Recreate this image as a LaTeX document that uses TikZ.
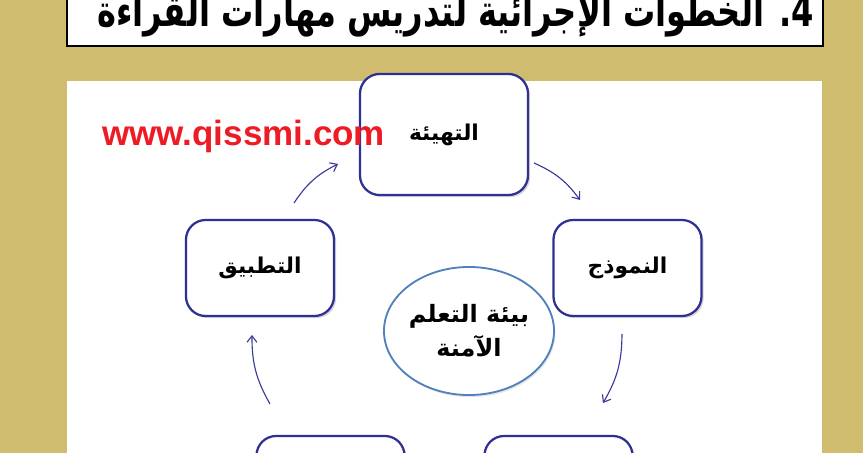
\documentclass[tikz,border=0pt]{standalone}
\usepackage{graphicx}
\usepackage{fontspec}
\setmainfont{Liberation Sans}
\newfontfamily\arabicfont[Script=Arabic]{DejaVu Sans}
\TeXXeTstate=1
\usetikzlibrary{shapes.geometric,shadows,arrows.meta}
\definecolor{khaki}{RGB}{208,188,110}
\definecolor{boxblue}{RGB}{46,49,146}
\definecolor{arrowblue}{RGB}{58,58,156}
\definecolor{ringblue}{RGB}{79,129,189}
\definecolor{urlred}{RGB}{237,28,36}
\newcommand{\artext}[1]{{\arabicfont\bfseries\beginR #1\endR}}

\begin{document}
\begin{tikzpicture}[x=0.025cm,y=-0.025cm,
    stepbox/.style={draw=boxblue,line width=1.6pt,rounded corners=14pt,fill=white,
      minimum width=3.7cm,minimum height=2.4cm,font=\fontsize{15.5}{18}\selectfont,
      drop shadow={opacity=.3,shadow xshift=1.5pt,shadow yshift=-1.5pt}},
    flow/.style={draw=arrowblue,line width=.8pt,-{Straight Barb[length=4.5pt,width=7pt]}}]
    \path[use as bounding box,clip] (0,0) rectangle (863,453);
    \fill[khaki] (0,0) rectangle (863,453);
    \fill[white] (67,81) rectangle (822,470);
    \draw[line width=1.4pt,fill=white,drop shadow={opacity=.4,shadow xshift=1pt,shadow yshift=-1pt}]
      (67,-20) rectangle (823,46);
    \node[anchor=base east,inner sep=0,font=\fontsize{31}{34}\selectfont] (title) at (814,27)
      {\resizebox{17.9cm}{\height}{\artext{4. الخطوات الإجرائية لتدريس مهارات القراءة}}};
    \node[stepbox,minimum width=4.2cm,minimum height=3.025cm] (tamhid) at (444,134.5) {\artext{التهيئة}};
    \node[stepbox] (numudhaj) at (627.5,268) {\artext{النموذج}};
    \node[stepbox] (tatbiq) at (260,268) {\artext{التطبيق}};
    \node[stepbox] (leftlow) at (330.5,484) {};
    \node[stepbox] (rightlow) at (558.5,484) {};
    \node[ellipse,draw=ringblue,line width=1.3pt,fill=white,minimum width=4.2cm,minimum height=3.2cm,
      inner sep=0pt,align=center,font=\fontsize{17}{24}\selectfont,
      drop shadow={opacity=.2,shadow xshift=1pt,shadow yshift=-1.5pt}] (safe) at (469,331)
      {\artext{بيئة التعلم}\\\artext{الآمنة}};
    \node[anchor=base west,inner sep=0,text=urlred,font=\fontsize{24.9}{28}\selectfont\bfseries] (url)
      at (102,145) {www.qissmi.com};
    \coordinate (a1) at (294,203);
    \coordinate (b1) at (338,164);
    \coordinate (a2) at (534,163);
    \coordinate (b2) at (580,200);
    \coordinate (a3) at (622,334);
    \coordinate (b3) at (603,403);
    \coordinate (a4) at (270,404);
    \coordinate (b4) at (252,335);
    \draw[flow] (a1) to[bend left=15] (b1);
    \draw[flow] (a2) to[bend left=15] (b2);
    \draw[flow] (a3) to[bend left=15] (b3);
    \draw[flow] (a4) to[bend left=15] (b4);
\end{tikzpicture}
\end{document}
